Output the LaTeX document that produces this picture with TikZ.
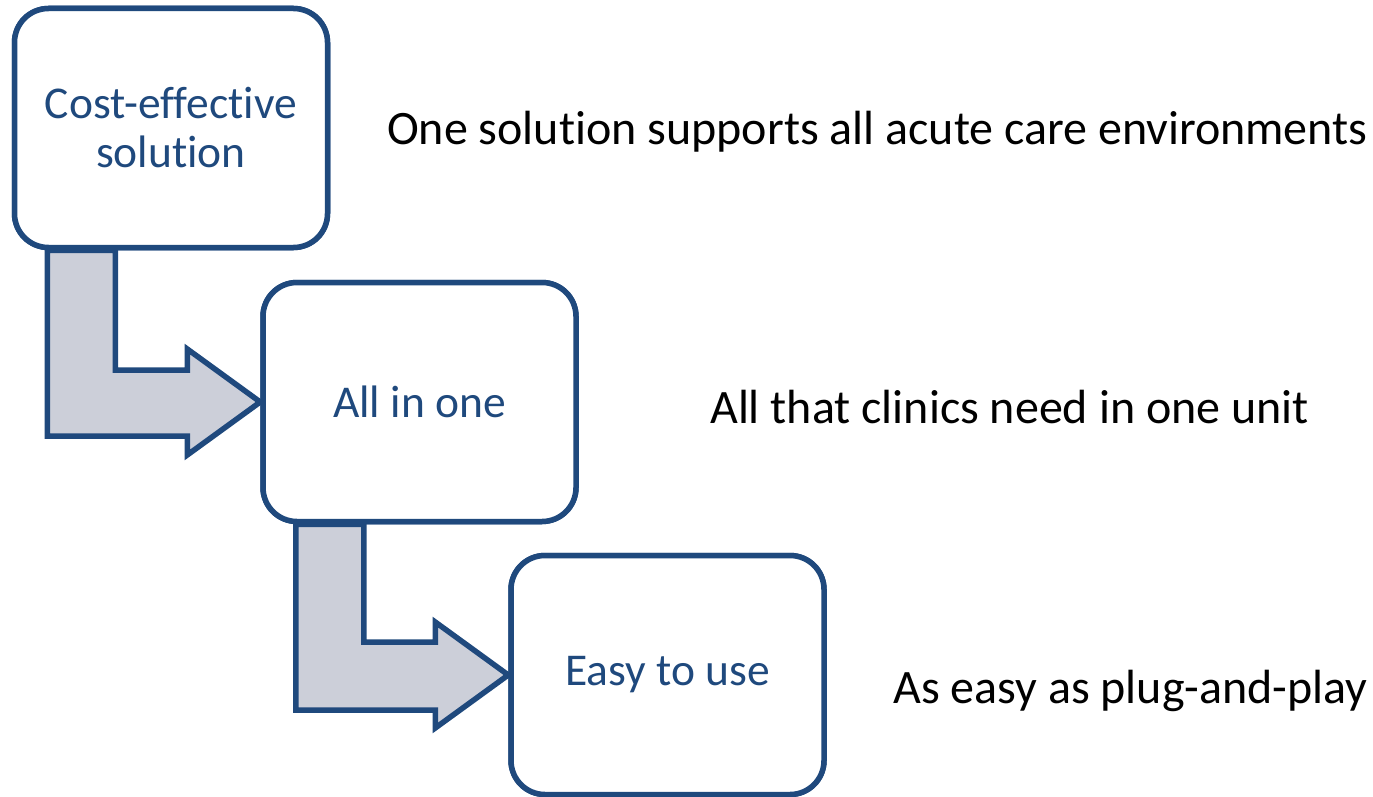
\documentclass[tikz,border=0pt]{standalone}
\usepackage{fontspec}
\setmainfont[Ligatures=NoCommon]{Carlito}
\usetikzlibrary{calc}
\definecolor{navy}{RGB}{31,73,125}
\definecolor{flowgray}{RGB}{204,207,217}
\tikzset{
  box/.style={draw=navy, line width=5.5pt, fill=white, rounded corners=34pt,
    minimum width=313pt, minimum height=239pt, inner sep=0pt,
    text=navy, font=\fontsize{45.5}{49}\selectfont, align=center},
  flow/.style={draw=navy, line width=5.5pt, fill=flowgray, line join=miter},
  note/.style={anchor=base west, inner sep=0pt, font=\fontsize{48}{57}\selectfont, text=black}
}
\begin{document}
\begin{tikzpicture}[x=1pt,y=-1pt]
\useasboundingbox (0,0) rectangle (1373,797);
% boxes (named first, for anchors)
\path (171,128) node[box] (b1) {Cost-effective\\solution};
\path (419.5,402) node[box] (b2) {All in one};
\path (667.5,675) node[box] (b3) {Easy to use};
% bent arrows
\draw[flow] let \p1=(b1.south west), \p2=(b2.west) in
  (\x1+35.5pt,\y1) -- (\x1+35.5pt,\y2-34pt) -- (\x2-73pt,\y2-34pt) -- (\x2-73pt,\y2-53pt)
  -- (\x2,\y2) -- (\x2-73pt,\y2+53pt) -- (\x2-73pt,\y2+32pt) -- (\x1+103.5pt,\y2+32pt)
  -- (\x1+103.5pt,\y1) -- cycle;
\draw[flow] let \p1=(b2.south west), \p2=(b3.west) in
  (\x1+35.5pt,\y1) -- (\x1+35.5pt,\y2-35pt) -- (\x2-73pt,\y2-35pt) -- (\x2-73pt,\y2-53pt)
  -- (\x2,\y2) -- (\x2-73pt,\y2+53pt) -- (\x2-73pt,\y2+33pt) -- (\x1+103.5pt,\y2+33pt)
  -- (\x1+103.5pt,\y1) -- cycle;
% redraw boxes on top
\path (171,128) node[box] {Cost-effective\\solution};
\path (419.5,402) node[box] {All in one};
\path (667.5,675) node[box] {Easy to use};
% notes
\node[note] (n1) at (387,145) {One solution supports all acute care environments};
\node[note] (n2) at (710,423) {All that clinics need in one unit};
\node[note] (n3) at (893,703) {As easy as plug-and-play};
\end{tikzpicture}
\end{document}
